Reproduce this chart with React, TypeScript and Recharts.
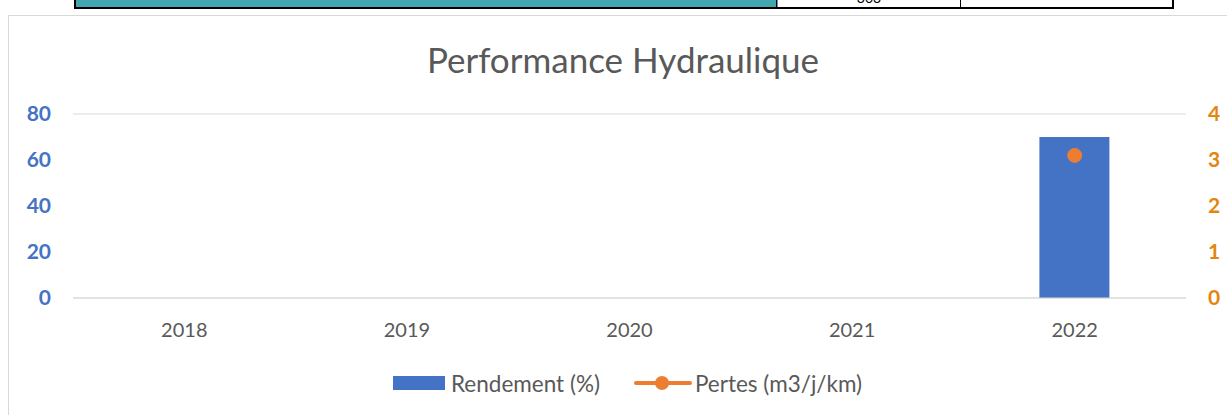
import React from "react";
import { ComposedChart, Bar, Line, XAxis, YAxis, CartesianGrid } from "recharts";

const years = ["2018", "2019", "2020", "2021", "2022"];
const rendement: (number | null)[] = [null, null, null, null, 70];
const pertes: (number | null)[] = [null, null, null, null, 3.1];
const leftTicks = [0, 20, 40, 60, 80];
const rightTicks = [0, 1, 2, 3, 4];

const data = years.map((y, i) => ({ year: y, rendement: rendement[i], pertes: pertes[i] }));

const FONT = "Lato, 'Liberation Sans', sans-serif";
const BLUE = "#4472C4";
const ORANGE = "#ED7D31";
const ORANGE_TXT = "#E4860E";
const GREY_TXT = "#595959";

export default function App() {
  return (
    <div style={{ position: "fixed", left: 0, top: 0, width: 1227, height: 415, overflow: "hidden", background: "#fff", fontFamily: FONT }}>
      {/* table fragment at top */}
      <div style={{ position: "absolute", left: 74, top: -2, width: 702, height: 9, background: "#43A5B0", borderLeft: "2px solid #000", borderBottom: "2px solid #000" }} />
      <div style={{ position: "absolute", left: 776, top: -2, width: 184, height: 9, borderLeft: "1px solid #000", borderBottom: "2px solid #000", overflow: "hidden" }}>
        <div style={{ position: "absolute", left: 0, width: 184, top: -9, textAlign: "center", fontSize: 14, color: "#000", fontFamily: FONT }}>303</div>
      </div>
      <div style={{ position: "absolute", left: 960, top: -2, width: 211, height: 9, borderLeft: "1px solid #000", borderRight: "2px solid #000", borderBottom: "2px solid #000" }} />
      {/* chart border */}
      <div style={{ position: "absolute", left: 8, top: 15, width: 1240, height: 420, border: "1px solid #D9D9D9", boxSizing: "border-box" }} />
      {/* title */}
      <div style={{ position: "absolute", left: 0, width: 1246, top: 37, textAlign: "center", fontSize: 35, lineHeight: "44px", color: GREY_TXT, fontFamily: FONT }}>
        Performance Hydraulique
      </div>
      <div style={{ position: "absolute", left: 0, top: 0 }}>
        <ComposedChart width={1227} height={415} data={data} margin={{ top: 114, right: 0, bottom: 87, left: 13 }}>
          <CartesianGrid vertical={false} stroke="#D9D9D9" strokeWidth={1} />
          <XAxis
            dataKey="year"
            axisLine={{ stroke: "#D9D9D9" }}
            tickLine={false}
            tickSize={0}
            tickMargin={25}
            height={30}
            tick={{ fill: GREY_TXT, fontSize: 20, fontFamily: FONT }}
          />
          <YAxis
            yAxisId="left"
            orientation="left"
            domain={[0, 80]}
            ticks={leftTicks}
            width={60}
            axisLine={false}
            tickLine={false}
            tickSize={0}
            tickMargin={22}
            tick={{ fill: BLUE, fontSize: 21, fontWeight: 700, fontFamily: FONT }}
          />
          <YAxis
            yAxisId="right"
            orientation="right"
            domain={[0, 4]}
            ticks={rightTicks}
            width={41}
            axisLine={false}
            tickLine={false}
            tickSize={0}
            tickMargin={22}
            tick={{ fill: ORANGE_TXT, fontSize: 21, fontWeight: 700, fontFamily: FONT }}
          />
          <Bar yAxisId="left" dataKey="rendement" fill={BLUE} barSize={70} isAnimationActive={false} />
          <Line
            yAxisId="right"
            dataKey="pertes"
            stroke={ORANGE}
            strokeWidth={3}
            dot={{ r: 7, fill: ORANGE, stroke: ORANGE, strokeWidth: 1 }}
            isAnimationActive={false}
          />
        </ComposedChart>
      </div>
      {/* legend */}
      <div style={{ position: "absolute", left: 393, top: 370, height: 26, display: "flex", alignItems: "center", fontSize: 22.5, color: GREY_TXT, fontFamily: FONT }}>
        <div style={{ width: 52, height: 14, background: BLUE, marginRight: 6 }} />
        <span>Rendement (%)</span>
        <svg width={58} height={16} style={{ marginLeft: 34, marginRight: 3 }}>
          <line x1={2} y1={8} x2={56} y2={8} stroke={ORANGE} strokeWidth={4} strokeLinecap="round" />
          <circle cx={28} cy={8} r={7} fill={ORANGE} />
        </svg>
        <span>Pertes (m3/j/km)</span>
      </div>
    </div>
  );
}
